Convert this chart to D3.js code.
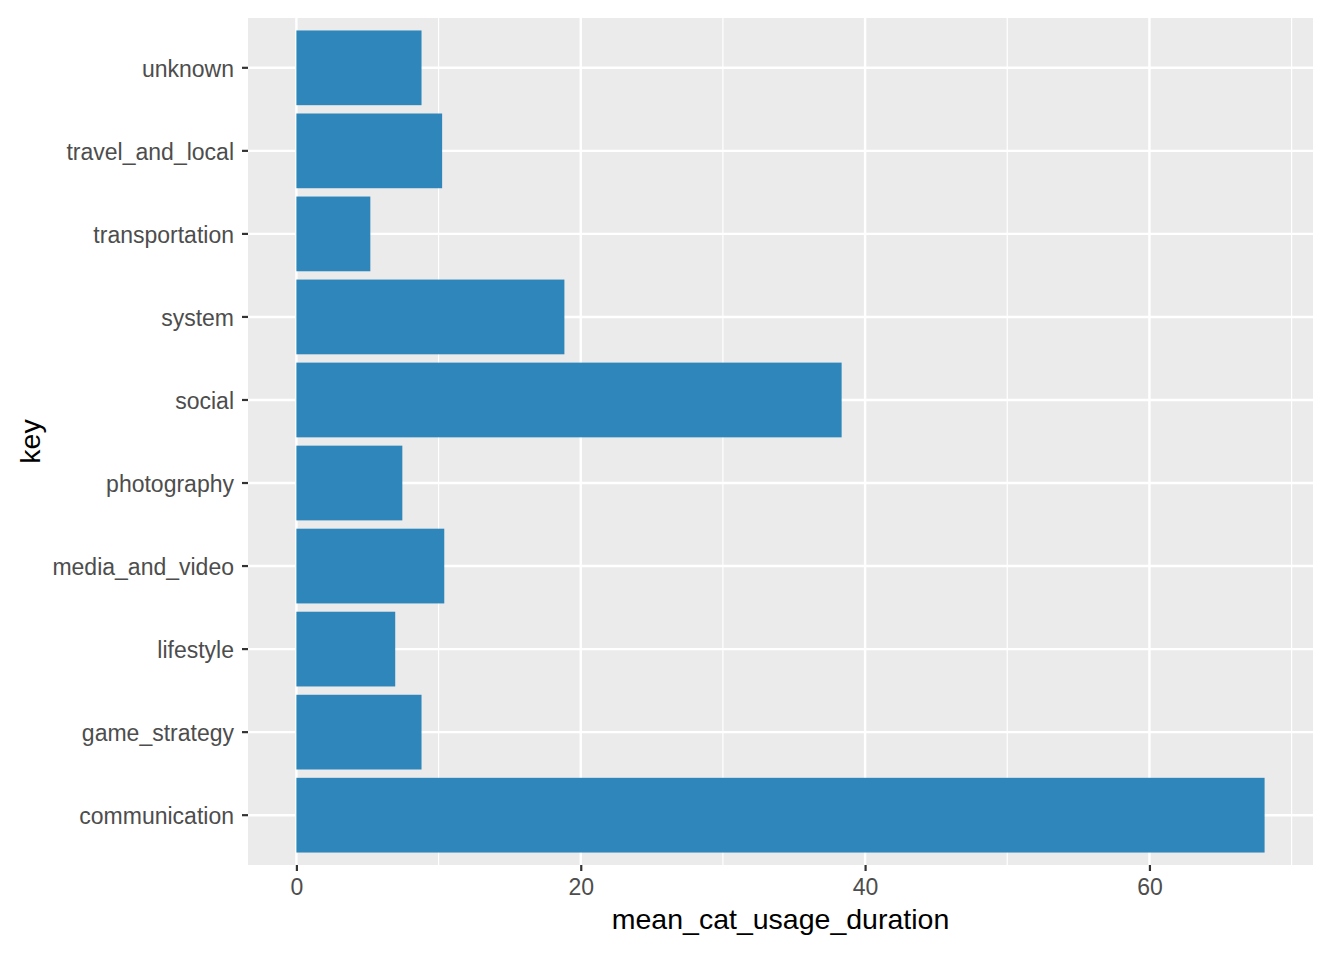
<!DOCTYPE html>
<html>
<head>
<meta charset="utf-8">
<script src="https://d3js.org/d3.v7.min.js"></script>
<style>
  body { margin: 0; background: #fff; }
  text { font-family: "Liberation Sans", Arial, Helvetica, sans-serif; }
</style>
</head>
<body>
<div id="chart"></div>
<script>
// categories, bottom to top as in the plot
const categories = ["communication", "game_strategy", "lifestyle", "media_and_video", "photography",
                    "social", "system", "transportation", "travel_and_local", "unknown"];
const meanUsage = [68.1, 8.8, 6.95, 10.4, 7.45, 38.35, 18.85, 5.2, 10.25, 8.8];
const xTicks = [0, 20, 40, 60];
const xMinor = [10, 30, 50, 70];

const width = 1340, height = 954;
const panel = {left: 248, right: 1313, top: 18, bottom: 865};

const svg = d3.select("#chart").append("svg")
    .attr("width", width)
    .attr("height", height);

// ggplot-style expansion: 5% on the continuous axis
const xmax = d3.max(meanUsage);
const x = d3.scaleLinear()
    .domain([-0.05 * xmax, xmax * 1.05])
    .range([panel.left, panel.right]);

// discrete axis with 0.6 expansion each side, bars 0.9 wide
const n = categories.length;
const yPos = d3.scaleLinear()
    .domain([0.4, n + 0.6])
    .range([panel.bottom, panel.top]);
const step = Math.abs(yPos(2) - yPos(1));

// panel background
svg.append("rect")
    .attr("x", panel.left).attr("y", panel.top)
    .attr("width", panel.right - panel.left)
    .attr("height", panel.bottom - panel.top)
    .attr("fill", "#ebebeb");

const grid = svg.append("g").attr("stroke", "#fff");
grid.selectAll("line.minor")
    .data(xMinor.filter(d => x(d) < panel.right))
    .join("line")
      .attr("class", "minor")
      .attr("x1", d => x(d)).attr("x2", d => x(d))
      .attr("y1", panel.top).attr("y2", panel.bottom)
      .attr("stroke-width", 1.2);
grid.selectAll("line.majx")
    .data(xTicks)
    .join("line")
      .attr("class", "majx")
      .attr("x1", d => x(d)).attr("x2", d => x(d))
      .attr("y1", panel.top).attr("y2", panel.bottom)
      .attr("stroke-width", 2.4);
grid.selectAll("line.majy")
    .data(categories)
    .join("line")
      .attr("class", "majy")
      .attr("x1", panel.left).attr("x2", panel.right)
      .attr("y1", (d, i) => yPos(i + 1)).attr("y2", (d, i) => yPos(i + 1))
      .attr("stroke-width", 2.4);

// bars
svg.append("g").selectAll("rect")
    .data(categories)
    .join("rect")
      .attr("x", x(0))
      .attr("y", (d, i) => yPos(i + 1) - 0.45 * step)
      .attr("width", (d, i) => x(meanUsage[i]) - x(0))
      .attr("height", 0.9 * step)
      .attr("fill", "#2e86ba");

// x axis
const xAxis = svg.append("g")
    .attr("transform", `translate(0,${panel.bottom})`)
    .call(d3.axisBottom(x).tickValues(xTicks).tickSize(6).tickPadding(8).tickFormat(d3.format("d")));
xAxis.select(".domain").remove();
xAxis.selectAll(".tick line").attr("stroke", "#333").attr("stroke-width", 2.2);
xAxis.selectAll(".tick text").attr("fill", "#4d4d4d").style("font-size", "23px")
    .attr("font-family", "Liberation Sans, Arial, sans-serif");

// y axis
const yAxisG = svg.append("g").attr("transform", `translate(${panel.left},0)`);
const yTicks = yAxisG.selectAll("g")
    .data(categories)
    .join("g")
      .attr("transform", (d, i) => `translate(0,${yPos(i + 1)})`);
yTicks.append("line")
    .attr("x1", -6).attr("x2", 0)
    .attr("stroke", "#333").attr("stroke-width", 2.2);
yTicks.append("text")
    .attr("x", -14)
    .attr("dy", "0.38em")
    .attr("text-anchor", "end")
    .attr("fill", "#4d4d4d")
    .style("font-size", "23px")
    .text(d => d);

// axis titles
svg.append("text")
    .attr("x", (panel.left + panel.right) / 2)
    .attr("y", 929)
    .attr("text-anchor", "middle")
    .style("font-size", "28.5px")
    .attr("fill", "#000")
    .text("mean_cat_usage_duration");

svg.append("text")
    .attr("transform", `translate(40,${(panel.top + panel.bottom) / 2}) rotate(-90)`)
    .attr("text-anchor", "middle")
    .style("font-size", "28.5px")
    .attr("fill", "#000")
    .text("key");
</script>
</body>
</html>
